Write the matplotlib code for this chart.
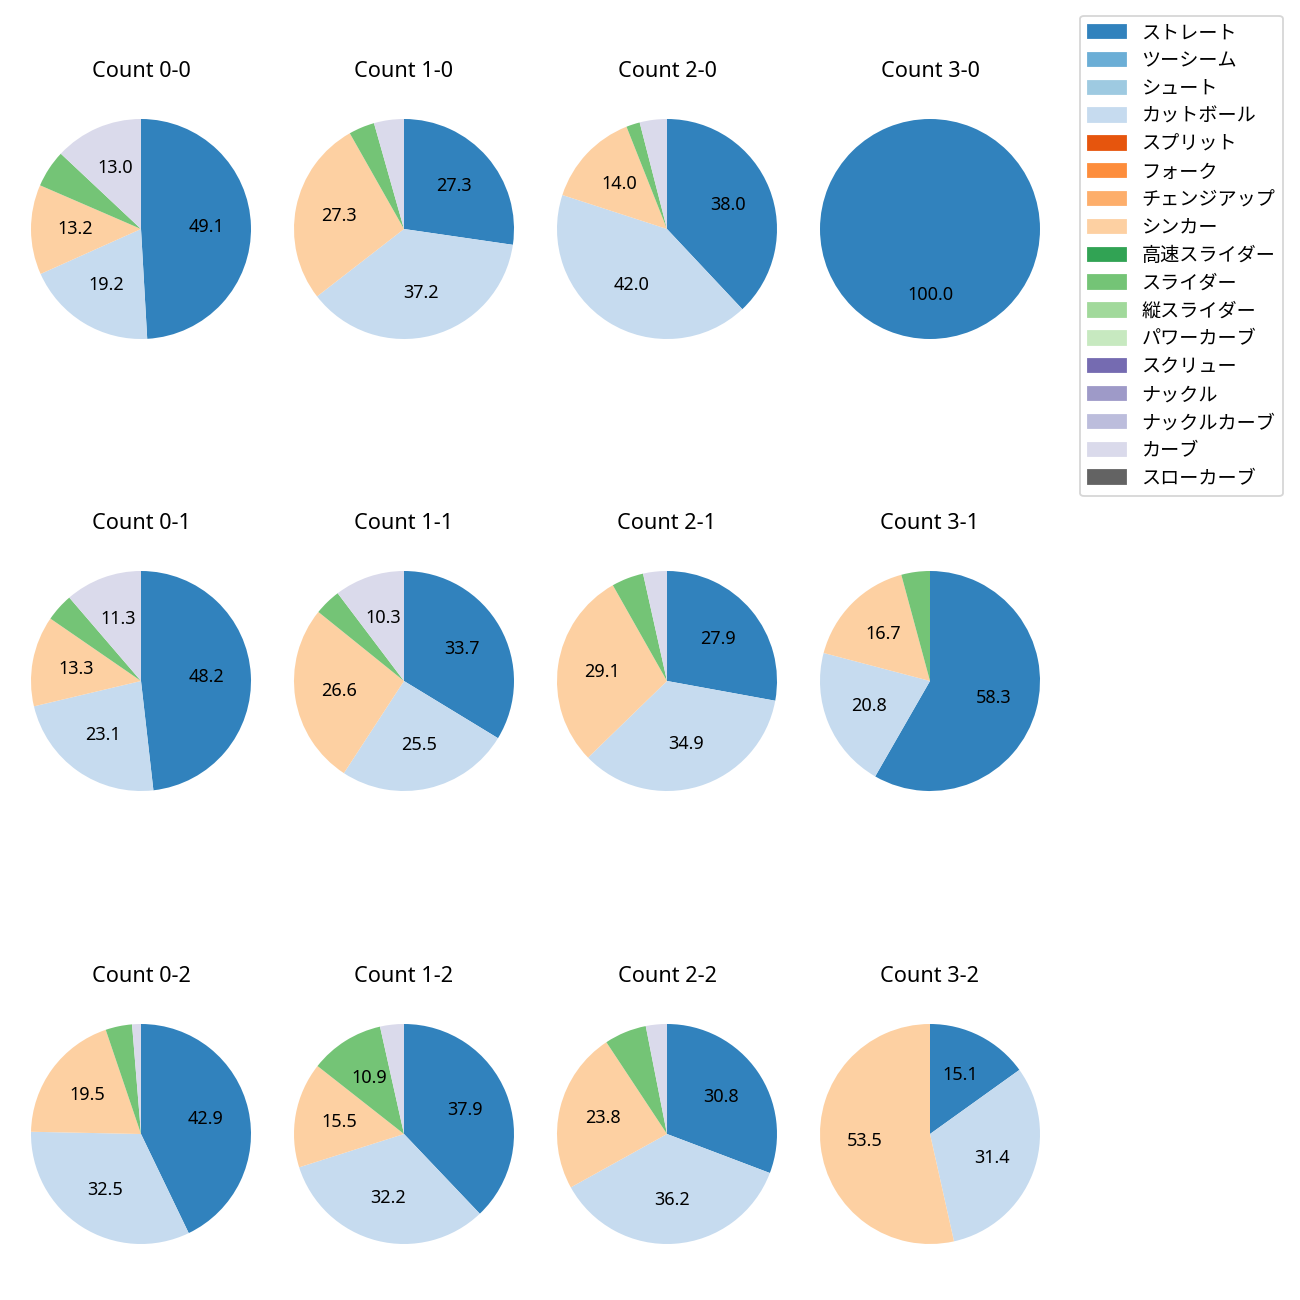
import matplotlib.pyplot as plt
from matplotlib.patches import Patch

plt.rcParams['font.family'] = ['Noto Sans', 'Noto Sans CJK JP', 'DejaVu Sans']

# 球種とカラー (tab20c の並び)
pitch_types = ["ストレート", "ツーシーム", "シュート", "カットボール", "スプリット", "フォーク",
               "チェンジアップ", "シンカー", "高速スライダー", "スライダー", "縦スライダー",
               "パワーカーブ", "スクリュー", "ナックル", "ナックルカーブ", "カーブ", "スローカーブ"]
cmap = plt.get_cmap("tab20c")
colors = [cmap(i) for i in range(len(pitch_types))]

# カウント (ボール-ストライク)
counts = ["0-0", "1-0", "2-0", "3-0",
          "0-1", "1-1", "2-1", "3-1",
          "0-2", "1-2", "2-2", "3-2"]

# 割合 (%)
straight = [49.1, 27.3, 38.0, 100.0, 48.2, 33.7, 27.9, 58.3, 42.9, 37.9, 30.8, 15.1]
cutball = [19.2, 37.2, 42.0, 0, 23.1, 25.5, 34.9, 20.8, 32.5, 32.2, 36.2, 31.4]
sinker = [13.2, 27.3, 14.0, 0, 13.3, 26.6, 29.1, 16.7, 19.5, 15.5, 23.8, 53.5]
slider = [5.5, 3.8, 2.0, 0, 4.1, 3.9, 4.7, 4.2, 3.9, 10.9, 6.2, 0]
curve = [13.0, 4.4, 4.0, 0, 11.3, 10.3, 3.5, 0, 1.3, 3.5, 3.1, 0]

series = {"ストレート": straight, "カットボール": cutball, "シンカー": sinker,
          "スライダー": slider, "カーブ": curve}

fig = plt.figure(figsize=(10, 10), dpi=130)

W = 1300
cx = [141, 404, 667, 930]
cy = [229, 681, 1134]
size = 275

for i, cnt in enumerate(counts):
    r, c = divmod(i, 4)
    left = (cx[c] - size / 2) / W
    bottom = 1 - (cy[r] + size / 2) / W
    ax = fig.add_axes([left, bottom, size / W, size / W])
    vals, cols = [], []
    for name in pitch_types:
        if name in series and series[name][i] > 0:
            vals.append(series[name][i])
            cols.append(colors[pitch_types.index(name)])
    ax.pie(vals, colors=cols, startangle=90, counterclock=False,
           autopct=lambda p: f"{p:.1f}" if p >= 10 else "")
    ax.set_title(f"Count {cnt}", pad=8)

handles = [Patch(color=colors[k], label=pitch_types[k]) for k in range(len(pitch_types))]
fig.legend(handles=handles, loc="upper right", bbox_to_anchor=(0.987, 0.988),
           borderaxespad=0, fontsize=10.6, labelspacing=0.41)

plt.savefig("out.png", dpi=130)
